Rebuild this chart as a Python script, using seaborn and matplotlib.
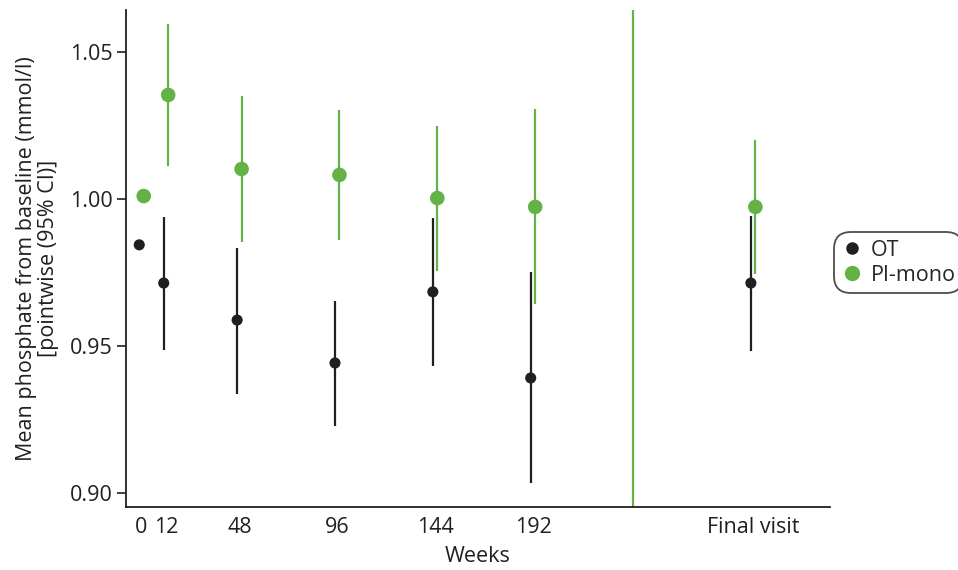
import numpy as np
import pandas as pd
import matplotlib
matplotlib.use("Agg")
import matplotlib.pyplot as plt
import seaborn as sns

# data
weeks = [0, 12, 48, 96, 144, 192, 300]          # 300 = "Final visit"
tick_labels = ["0", "12", "48", "96", "144", "192", "Final visit"]
ot_mean = [0.9844, 0.9714, 0.9588, 0.9442, 0.9684, 0.9391, 0.9714]
ot_low = [np.nan, 0.9486, 0.9338, 0.9228, 0.9432, 0.9034, 0.9483]
ot_high = [np.nan, 0.9939, 0.9833, 0.9653, 0.9935, 0.9752, 0.9942]
pi_mean = [1.0010, 1.0354, 1.0102, 1.0082, 1.0003, 0.9973, 0.9973]
pi_low = [np.nan, 1.0112, 0.9854, 0.9861, 0.9755, 0.9643, 0.9745]
pi_high = [np.nan, 1.0595, 1.0350, 1.0303, 1.0248, 1.0306, 1.0200]
pi_extra_week = 241   # PI-mono CI here runs off the whole axis

groups = ["OT", "PI-mono"]
colors = {"OT": "#231f20", "PI-mono": "#62b246"}
offset = {"OT": -1.1, "PI-mono": 1.1}

df = pd.concat([
    pd.DataFrame({"week": weeks, "mean": ot_mean, "low": ot_low, "high": ot_high, "group": "OT"}),
    pd.DataFrame({"week": weeks, "mean": pi_mean, "low": pi_low, "high": pi_high, "group": "PI-mono"}),
], ignore_index=True)
df["x"] = df["week"] + df["group"].map(offset)

sns.set_style("white")
plt.rcParams["font.family"] = ["Open Sans", "DejaVu Sans"]
fs = 15.5

fig = plt.figure(figsize=(9.58, 5.70), dpi=100)
ax = fig.add_axes([126 / 958, 1 - 507 / 570, (830 - 126) / 958, (507 - 10) / 570])

# confidence intervals
for g in groups:
    sub = df[df["group"] == g].dropna()
    ax.vlines(sub["x"], sub["low"], sub["high"], color=colors[g], lw=1.6, zorder=2)
ax.axvline(pi_extra_week, color=colors["PI-mono"], lw=1.6, zorder=2)

# point estimates
sns.scatterplot(data=df[df["group"] == "OT"], x="x", y="mean", color=colors["OT"],
                s=64, edgecolor="none", ax=ax, zorder=3, legend=False)
sns.scatterplot(data=df[df["group"] == "PI-mono"], x="x", y="mean", color=colors["PI-mono"],
                s=110, edgecolor="none", ax=ax, zorder=3, legend=False)

ax.set_xlim(-7.6, 337.7)
ax.set_ylim(0.8952, 1.0643)
ax.set_xticks(weeks)
ax.set_xticklabels(tick_labels)
ax.set_yticks([0.90, 0.95, 1.00, 1.05])
ax.set_yticklabels(["0.90", "0.95", "1.00", "1.05"])
ax.tick_params(axis="y", length=6.5, width=1.2, color="#231f20", labelsize=fs, pad=3, direction="out", left=True)
ax.tick_params(axis="x", length=0, labelsize=fs, pad=7)
for lab in ax.get_xticklabels() + ax.get_yticklabels():
    lab.set_color("#231f20")

sns.despine(ax=ax)
for s in ["left", "bottom"]:
    ax.spines[s].set_color("#231f20")
    ax.spines[s].set_linewidth(1.3)

ax.set_xlabel("Weeks", fontsize=fs, color="#231f20", labelpad=6)
ax.set_ylabel("Mean phosphate from baseline (mmol/l)\n[pointwise (95% CI)]",
              fontsize=fs, color="#231f20", labelpad=8, linespacing=1.05)

# legend
handles = [plt.Line2D([], [], marker="o", ls="", color=colors["OT"], markersize=8),
           plt.Line2D([], [], marker="o", ls="", color=colors["PI-mono"], markersize=10)]
leg = fig.legend(handles, groups, loc="upper left", bbox_to_anchor=(834 / 958, 1 - 232 / 570),
                 frameon=True, fancybox=True, fontsize=fs, handletextpad=0.35,
                 handlelength=1.0, borderpad=0.35, labelspacing=0.2, borderaxespad=0)
leg.get_frame().set_edgecolor("#231f20")
leg.get_frame().set_linewidth(1.3)
leg.get_frame().set_boxstyle("round,pad=0,rounding_size=0.8")

fig.savefig("out.png", dpi=100)
